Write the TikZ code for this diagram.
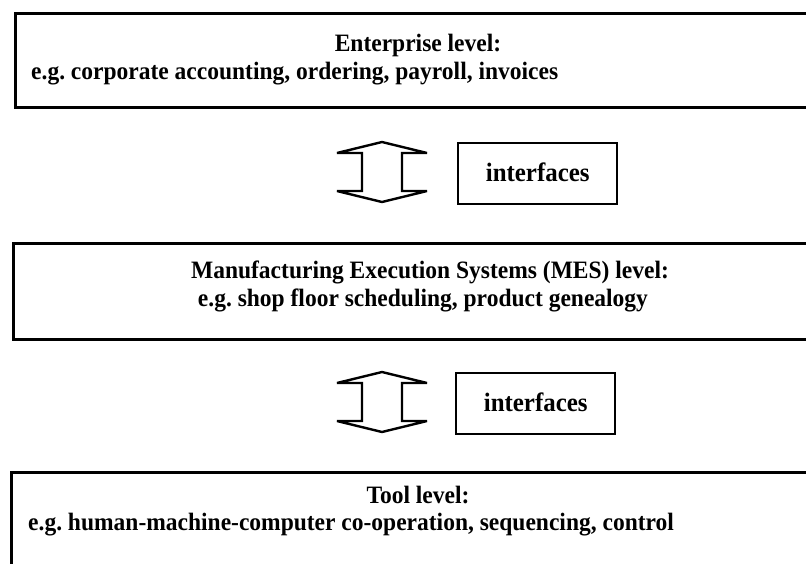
\documentclass[tikz,border=0pt]{standalone}
\usepackage{fontspec}
\setmainfont{Liberation Serif}
\newfontfamily\narrowserif[FakeStretch=0.94]{Liberation Serif}
\frenchspacing
\tikzset{
  levelbox/.style={draw, line width=3.2pt, rectangle, inner sep=0pt,
    anchor=north west, minimum width=820pt},
  ifbox/.style={draw, line width=2.4pt, rectangle, inner sep=0pt,
    anchor=north west, minimum width=159pt, minimum height=61pt},
  lbl/.style={inner sep=0pt, font=\narrowserif\fontsize{25}{28}\selectfont\bfseries},
  iflbl/.style={inner sep=0pt, anchor=base, font=\narrowserif\fontsize{26.5}{28}\selectfont\bfseries},
  updown/.pic={
    \draw[line width=2.4pt, line join=miter, miter limit=2]
      (0,-30) -- (45,-19) -- (20,-19) -- (20,19) -- (45,19) -- (0,30)
      -- (-45,19) -- (-20,19) -- (-20,-19) -- (-45,-19) -- cycle;
  }
}
\begin{document}
\begin{tikzpicture}[x=1pt, y=-1pt]
\useasboundingbox (0,0) rectangle (806,563);
\clip (0,0) rectangle (806,563);

% three levels
\node[levelbox, minimum height=94pt]  (ent)  at (14,12) {};
\node[levelbox, minimum height=96pt]  (mes)  at (12,242) {};
\node[levelbox, minimum height=130pt] (tool) at (10,471) {};

\node[lbl, anchor=base] (entT) at (418,51) {Enterprise level:};
\node[lbl, anchor=base west] (entE) at (31,79) {e.g. corporate accounting, ordering, payroll, invoices};

\node[lbl, anchor=base] (mesT) at (430,278) {Manufacturing Execution Systems (MES) level:};
\node[lbl, anchor=base] (mesE) at (423,306) {e.g. shop floor scheduling, product genealogy};

\node[lbl, anchor=base] (toolT) at (418,503) {Tool level:};
\node[lbl, anchor=base west] (toolE) at (28,530) {e.g. human-machine-computer co-operation, sequencing, control};

% interfaces between levels
\pic (arrA) at (382,172) {updown};
\node[ifbox] (ifA) at (457,142) {};
\node[iflbl] (ifAT) at (ifA.center |- 0,181) {interfaces};

\pic (arrB) at (382,402) {updown};
\node[ifbox] (ifB) at (455,372) {};
\node[iflbl] (ifBT) at (ifB.center |- 0,411) {interfaces};
\end{tikzpicture}
\end{document}
